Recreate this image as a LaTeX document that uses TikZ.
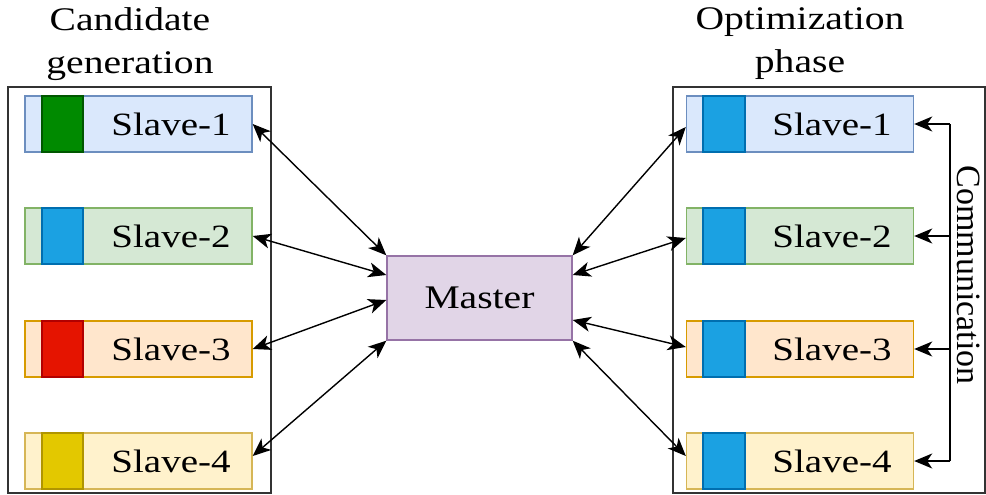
\documentclass[tikz,border=0pt]{standalone}
\usepackage{fontspec}
\setmainfont{Liberation Serif}[FakeStretch=1.2]
\newfontfamily\plainserif{Liberation Serif}
\usetikzlibrary{arrows.meta}
\definecolor{c1f}{HTML}{DAE8FC}\definecolor{c1d}{HTML}{6C8EBF}
\definecolor{c2f}{HTML}{D5E8D4}\definecolor{c2d}{HTML}{82B366}
\definecolor{c3f}{HTML}{FFE6CC}\definecolor{c3d}{HTML}{D79B00}
\definecolor{c4f}{HTML}{FFF2CC}\definecolor{c4d}{HTML}{D6B656}
\definecolor{gf}{HTML}{008A00}\definecolor{gd}{HTML}{005700}
\definecolor{bf}{HTML}{1BA1E2}\definecolor{bd}{HTML}{006EAF}
\definecolor{rf}{HTML}{E51400}\definecolor{rd}{HTML}{B20000}
\definecolor{yf}{HTML}{E3C800}\definecolor{yd}{HTML}{B09500}
\definecolor{mf}{HTML}{E1D5E7}\definecolor{md}{HTML}{9673A6}
\definecolor{frame}{HTML}{333333}
\tikzset{
  slavebox/.style={rectangle, draw, line width=1.4pt, minimum width=227pt, minimum height=56pt, inner sep=0pt},
  lbl/.style={font=\fontsize{32.5}{36}\selectfont, inner sep=0pt},
  ttl/.style={font=\fontsize{33}{43}\selectfont, align=center, inner sep=0pt},
  frm/.style={draw=frame, line width=1.6pt},
  biarrow/.style={line width=1.4pt, {Stealth[length=18pt,width=15pt,inset=5pt]}-{Stealth[length=18pt,width=15pt,inset=5pt]}},
  onearrow/.style={line width=1.4pt, -{Stealth[length=18pt,width=15pt,inset=5pt]}},
  tag/.style={line width=1.4pt}
}
\begin{document}
\begin{tikzpicture}[x=1pt,y=-1pt]
\useasboundingbox (0,0) rectangle (986,495);
% titles
\node[ttl] (tl) at (130,44) {Candidate\\generation};
\node[ttl] (tr) at (800,44) {Optimization\\phase};
% frames
\draw[frm] (8,87) rectangle (271,493);
\draw[frm] (673,87) rectangle (985,493);
% left slaves
\node[slavebox, fill=c1f, draw=c1d] (l1) at (138.5,124) {};
\node[slavebox, fill=c2f, draw=c2d] (l2) at (138.5,236) {};
\node[slavebox, fill=c3f, draw=c3d] (l3) at (138.5,349) {};
\node[slavebox, fill=c4f, draw=c4d] (l4) at (138.5,461) {};
\draw[tag, fill=gf, draw=gd] (42,96) rectangle (83,152);
\draw[tag, fill=bf, draw=bd] (42,208) rectangle (83,264);
\draw[tag, fill=rf, draw=rd] (42,321) rectangle (83,377);
\draw[tag, fill=yf, draw=yd] (42,433) rectangle (83,489);
\node[lbl] (lt1) at (171,124) {Slave-1};
\node[lbl] (lt2) at (171,236) {Slave-2};
\node[lbl] (lt3) at (171,349) {Slave-3};
\node[lbl] (lt4) at (171,461) {Slave-4};
% right slaves
\node[slavebox, fill=c1f, draw=c1d] (r1) at (800,124) {};
\node[slavebox, fill=c2f, draw=c2d] (r2) at (800,236) {};
\node[slavebox, fill=c3f, draw=c3d] (r3) at (800,349) {};
\node[slavebox, fill=c4f, draw=c4d] (r4) at (800,461) {};
\draw[tag, fill=bf, draw=bd] (703,96) rectangle (745,152);
\draw[tag, fill=bf, draw=bd] (703,208) rectangle (745,264);
\draw[tag, fill=bf, draw=bd] (703,321) rectangle (745,377);
\draw[tag, fill=bf, draw=bd] (703,433) rectangle (745,489);
\node[lbl] (rt1) at (832,124) {Slave-1};
\node[lbl] (rt2) at (832,236) {Slave-2};
\node[lbl] (rt3) at (832,349) {Slave-3};
\node[lbl] (rt4) at (832,461) {Slave-4};
% master
\node[rectangle, draw=md, fill=mf, line width=1.4pt, minimum width=185pt, minimum height=84pt, inner sep=0pt] (m) at (479.5,298) {};
\node[lbl, font=\fontsize{33}{36}\selectfont] (mt) at (479.5,298) {Master};
% connectors left
\draw[biarrow] (l1.east) -- (m.north west);
\draw[biarrow] (l2.east) -- ([yshift=23pt]m.west);
\draw[biarrow] (l3.east) -- ([yshift=-2pt]m.west);
\draw[biarrow] ([yshift=5pt]l4.east) -- (m.south west);
% connectors right
\draw[biarrow] (m.north east) -- ([yshift=-3pt]r1.west);
\draw[biarrow] ([yshift=23pt]m.east) -- ([yshift=-2pt]r2.west);
\draw[biarrow] ([yshift=-22pt]m.east) -- ([yshift=2pt]r3.west);
\draw[biarrow] (m.south east) -- ([yshift=5pt]r4.west);
% communication
\coordinate (ct) at (950,124);
\coordinate (cb) at (950,461);
\draw[line width=1.4pt] (ct) -- (cb);
\draw[onearrow] (ct) -- (r1.east);
\draw[onearrow] (950,236) -- (r2.east);
\draw[onearrow] (950,349) -- (r3.east);
\draw[onearrow] (cb) -- (r4.east);
\node[inner sep=0pt, rotate=-90, font=\plainserif\fontsize{34}{36}\selectfont] (comm) at (969,275) {Communication};
\end{tikzpicture}
\end{document}
